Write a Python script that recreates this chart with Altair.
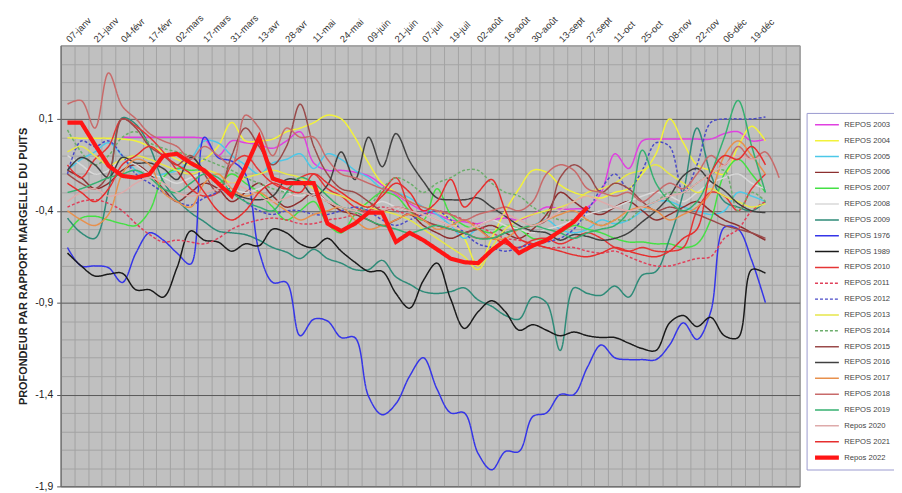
import altair as alt
import pandas as pd

x_labels = ['07-janv', '21-janv', '04-févr', '17-févr', '02-mars', '17-mars', '31-mars',
            '13-avr', '28-avr', '11-mai', '24-mai', '09-juin', '21-juin', '07-juil',
            '19-juil', '02-août', '16-août', '30-août', '13-sept', '27-sept', '11-oct',
            '25-oct', '08-nov', '22-nov', '06-déc', '19-déc']

series_names = ["REPOS 2003", "REPOS 2004", "REPOS 2005", "REPOS 2006", "REPOS 2007",
                "REPOS 2008", "REPOS 2009", "REPOS 1976", "REPOS 1989", "REPOS 2010",
                "REPOS 2011", "REPOS 2012", "REPOS 2013", "REPOS 2014", "REPOS 2015",
                "REPOS 2016", "REPOS 2017", "REPOS 2018", "REPOS 2019", "Repos 2020",
                "REPOS 2021", "Repos 2022"]
series_colors = ["#e040e0", "#f2f23a", "#4cc8e8", "#8c2f2f", "#44e044",
                 "#d9d9d9", "#2e8b78", "#3535e8", "#1a1a1a", "#e53535",
                 "#e0405a", "#4a4ac8", "#e6e64a", "#6cae6c", "#9a4a4a",
                 "#404040", "#e8904c", "#c86a6a", "#35b070", "#deaaaa",
                 "#e62e2e", "#ff1515"]
series_dashes = [[1, 0]] * 10 + [[3, 2], [3, 2], [1, 0], [3, 2]] + [[1, 0]] * 8
series_widths = [1.5] * 21 + [4.2]
series_starts = [4] + [0] * 21

s2003 = [-0.0, -0.0, -0.0, -0.0, -0.0, -0.0, -0.01,
         -0.10, -0.02, -0.03, -0.04, -0.06, -0.02, 0.03, -0.14, -0.18, -0.18, -0.19, -0.21, -0.26, -0.31,
         -0.36, -0.40, -0.42, -0.45, -0.46, -0.47, -0.45, -0.44, -0.45, -0.42,
         -0.38, -0.39, -0.39, -0.38, -0.30, -0.09, -0.17, -0.02, -0.01, -0.01, -0.01, -0.01, -0.01, 0.02, 0.03, -0.02, -0.01]
s2004 = [-0.003, -0.005, -0.005, -0.005, -0.01, -0.02, -0.05, -0.08, -0.12, -0.15,
         -0.12, -0.05, 0.08, -0.02, -0.02, -0.01, 0.03, 0.05, 0.08, 0.12,
         0.10, 0.00, -0.14, -0.25, -0.30, -0.35, -0.38, -0.40, -0.45, -0.55,
         -0.70, -0.55, -0.40, -0.28, -0.18, -0.19, -0.26, -0.30, -0.32, -0.33,
         -0.30, -0.28, -0.20, -0.09, 0.10, -0.03, -0.15, -0.18, -0.20, -0.05,
         0.06, -0.02]
s2005 = [-0.18, -0.12, -0.08, -0.03, -0.10, -0.18, -0.22, -0.20, -0.18, -0.12,
         -0.02, -0.03, -0.10, -0.15, -0.20, -0.14, -0.12, -0.09, -0.17, -0.09,
         -0.12, -0.18, -0.22, -0.28, -0.30, -0.33, -0.38, -0.42, -0.48, -0.55,
         -0.50, -0.55, -0.52, -0.50, -0.48, -0.45, -0.50, -0.52, -0.50, -0.45,
         -0.47, -0.45, -0.40, -0.35, -0.35, -0.38, -0.40, -0.42, -0.40, -0.30,
         -0.32, -0.35]
s2006 = [-0.18, -0.22, -0.28, -0.25, -0.18, -0.15, -0.20, -0.28, -0.35, -0.30,
         -0.25, -0.28, -0.35, -0.30, -0.25, -0.32, -0.38, -0.35, -0.30, -0.35,
         -0.40, -0.42, -0.45, -0.48, -0.45, -0.42, -0.48, -0.52, -0.55, -0.52,
         -0.50, -0.48, -0.52, -0.55, -0.50, -0.42, -0.30, -0.35, -0.40, -0.42,
         -0.38, -0.35, -0.40, -0.45, -0.42, -0.38, -0.35, -0.40, -0.45, -0.48,
         -0.52, -0.56]
s2007 = [-0.52, -0.44, -0.43, -0.45, -0.47, -0.48, -0.40, -0.22, -0.17, -0.18,
         -0.18, -0.25, -0.20, -0.25, -0.30, -0.38, -0.45, -0.40, -0.35, -0.47,
         -0.52, -0.42, -0.35, -0.30, -0.32, -0.40, -0.45, -0.28, -0.42, -0.48,
         -0.50, -0.52, -0.48, -0.50, -0.55, -0.55, -0.52, -0.48, -0.50, -0.52,
         -0.55, -0.57, -0.57, -0.58, -0.58, -0.60, -0.58, -0.45, -0.20, -0.12,
         -0.20, -0.30]
s2008 = [-0.10, -0.15, -0.20, -0.18, -0.12, -0.15, -0.20, -0.22, -0.25, -0.22,
         -0.20, -0.25, -0.28, -0.30, -0.28, -0.25, -0.30, -0.32, -0.30, -0.35,
         -0.38, -0.40, -0.38, -0.35, -0.38, -0.40, -0.42, -0.45, -0.48, -0.50,
         -0.48, -0.45, -0.48, -0.50, -0.52, -0.50, -0.48, -0.45, -0.42, -0.40,
         -0.38, -0.35, -0.32, -0.30, -0.32, -0.35, -0.30, -0.25, -0.22, -0.20,
         -0.25, -0.28]
s2009 = [-0.44, -0.52, -0.55, -0.29, 0.105, 0.07, -0.05, -0.24, -0.34, -0.41,
         -0.46, -0.51, -0.52, -0.53, -0.56, -0.60, -0.625, -0.66, -0.61, -0.66,
         -0.685, -0.72, -0.72, -0.67, -0.76, -0.80, -0.84, -0.85, -0.84, -0.82,
         -0.885, -0.92, -0.97, -0.99, -0.87, -0.90, -1.16, -0.82, -0.85, -0.86,
         -0.81, -0.87, -0.75, -0.73, -0.55, -0.30, 0.05, -0.20, -0.35, -0.38,
         -0.40, -0.35]
s1976 = [-0.60, -0.70, -0.70, -0.71, -0.79, -0.63, -0.52, -0.56, -0.63, -0.69,
         0.00, -0.11, -0.13, -0.20, -0.62, -0.79, -0.79, -1.08, -0.99, -1.00,
         -1.09, -1.09, -1.41, -1.51, -1.45, -1.30, -1.20, -1.37, -1.50, -1.50,
         -1.72, -1.81, -1.71, -1.71, -1.52, -1.50, -1.40, -1.40, -1.25, -1.13,
         -1.20, -1.21, -1.21, -1.21, -1.13, -1.01, -1.10, -0.95, -0.49, -0.50,
         -0.67, -0.90]
s1989 = [-0.63, -0.70, -0.755, -0.745, -0.74, -0.83, -0.83, -0.87, -0.71, -0.51,
         -0.56, -0.57, -0.62, -0.58, -0.59, -0.50, -0.52, -0.58, -0.60, -0.55,
         -0.62, -0.68, -0.73, -0.73, -0.85, -0.93, -0.78, -0.685, -0.88, -1.04,
         -0.95, -0.89, -0.95, -1.05, -1.02, -1.05, -1.08, -1.06, -1.08, -1.09,
         -1.09, -1.12, -1.15, -1.16, -1.01, -0.97, -1.03, -0.98, -1.08, -1.09,
         -0.72, -0.74]
s2010 = [-0.15, -0.22, -0.12, -0.05, 0.10, 0.06, 0.00, -0.08, -0.18, -0.28,
         -0.32, -0.30, -0.15, -0.10, -0.18, -0.25, -0.28, -0.22, -0.20, -0.28,
         -0.32, -0.38, -0.40, -0.30, -0.22, -0.38, -0.45, -0.48, -0.50, -0.52,
         -0.55, -0.55, -0.58, -0.60, -0.56, -0.55, -0.58, -0.55, -0.52, -0.55,
         -0.60, -0.62, -0.60, -0.62, -0.62, -0.60, -0.40, -0.30, -0.32, -0.40,
         -0.28, -0.20]
s2011 = [-0.38, -0.35, -0.34, -0.36, -0.40, -0.47, -0.53, -0.57, -0.56, -0.57,
         -0.58, -0.55, -0.50, -0.47, -0.45, -0.44, -0.45, -0.47, -0.47, -0.45,
         -0.44, -0.42, -0.40, -0.38, -0.40, -0.42, -0.42, -0.40, -0.42, -0.45,
         -0.48, -0.52, -0.55, -0.56, -0.58, -0.60, -0.60, -0.60, -0.62, -0.63,
         -0.62, -0.65, -0.68, -0.70, -0.70, -0.68, -0.66, -0.65, -0.55, -0.50,
         -0.40, -0.35]
s2012 = [-0.20, -0.02, -0.05, -0.02, -0.10, -0.20, -0.25, -0.30, -0.35, -0.37,
         -0.33, -0.30, -0.28, -0.35, -0.40, -0.42, -0.40, -0.40, -0.42, -0.42,
         -0.40, -0.38, -0.40, -0.45, -0.48, -0.45, -0.42, -0.40, -0.45, -0.52,
         -0.58, -0.60, -0.62, -0.60, -0.58, -0.57, -0.55, -0.50, -0.40, -0.28,
         -0.20, -0.28, -0.18, -0.03, -0.05, -0.30, -0.15, 0.08, 0.10, 0.10,
         0.10, 0.11]
s2013 = [-0.08, -0.05, -0.10, -0.15, -0.12, -0.10, -0.12, -0.15, -0.18, -0.20,
         -0.18, -0.20, -0.25, -0.22, -0.20, -0.18, -0.20, -0.22, -0.28, -0.30,
         -0.32, -0.35, -0.38, -0.40, -0.42, -0.45, -0.50, -0.55, -0.60, -0.65,
         -0.72, -0.60, -0.50, -0.45, -0.42, -0.40, -0.38, -0.35, -0.30, -0.28,
         -0.25, -0.20, -0.18, -0.15, -0.20, -0.25, -0.30, -0.28, -0.32, -0.35,
         -0.38, -0.36]
s2014 = [0.04, -0.08, -0.15, -0.10, 0.00, 0.03, -0.03, -0.06, -0.08, -0.10,
         -0.12, -0.15, -0.18, -0.22, -0.25, -0.28, -0.30, -0.30, -0.32, -0.35,
         -0.38, -0.40, -0.38, -0.28, -0.22, -0.25, -0.30, -0.25, -0.22, -0.18,
         -0.18, -0.25, -0.30, -0.32, -0.38, -0.42, -0.45, -0.45, -0.45, -0.48,
         -0.45, -0.45, -0.38, -0.35, -0.30, -0.30, -0.25, -0.20, -0.18, -0.40,
         -0.30, -0.35]
s2015 = [-0.20, -0.25, -0.28, -0.20, 0.10, 0.05, -0.05, -0.10, -0.15, -0.10,
         -0.20, -0.30, -0.10, 0.05, -0.05, -0.15, -0.05, 0.18, -0.05, -0.20,
         -0.28, -0.30, -0.35, -0.40, -0.38, -0.40, -0.45, -0.48, -0.50, -0.52,
         -0.50, -0.55, -0.52, -0.50, -0.48, -0.45, -0.22, -0.15, -0.20, -0.30,
         -0.25, -0.28, -0.35, -0.40, -0.38, -0.40, -0.42, -0.45, -0.48, -0.50,
         -0.52, -0.55]
s2016 = [-0.18, -0.11, -0.15, -0.22, -0.11, -0.14, -0.14, -0.17, -0.23, -0.11,
         -0.18, -0.25, -0.30, -0.33, -0.34, -0.32, -0.23, -0.24, -0.32, -0.26,
         -0.08, -0.23, 0.00, -0.16, 0.02, -0.13, -0.24, -0.33, -0.34, -0.34,
         -0.33, -0.38, -0.43, -0.48, -0.51, -0.52, -0.56, -0.53, -0.54, -0.56,
         -0.55, -0.52, -0.46, -0.40, -0.32, -0.21, -0.17, -0.24, -0.29, -0.36,
         -0.40, -0.41]
s2017 = [-0.40, -0.45, -0.48, -0.42, -0.20, -0.12, -0.15, -0.30, -0.35, -0.38,
         -0.25, -0.20, -0.28, -0.32, -0.30, -0.35, -0.40, -0.45, -0.42, -0.40,
         -0.38, -0.45, -0.50, -0.48, -0.45, -0.42, -0.45, -0.50, -0.48, -0.45,
         -0.50, -0.55, -0.55, -0.50, -0.48, -0.45, -0.42, -0.40, -0.45, -0.48,
         -0.45, -0.40, -0.38, -0.40, -0.45, -0.42, -0.38, -0.30, -0.10, -0.02,
         -0.10, -0.20]
s2018 = [0.18, 0.20, 0.05, 0.35, 0.17, 0.10, 0.02, -0.02, -0.05, -0.12,
         -0.05, -0.10, -0.15, 0.12, 0.05, -0.10, 0.05, 0.00, 0.00, -0.12,
         -0.20, -0.22, -0.25, -0.28, -0.30, -0.35, -0.38, -0.40, -0.42, -0.45,
         -0.42, -0.40, -0.38, -0.40, -0.35, -0.20, -0.15, -0.18, -0.28, -0.30,
         -0.32, -0.30, -0.35, -0.30, -0.25, -0.28, -0.20, -0.10, -0.15, -0.05,
         -0.12, -0.08, -0.22]
s2019 = [-0.30, -0.28, -0.25, -0.22, -0.20, -0.18, -0.22, -0.28, -0.30, -0.25,
         -0.20, -0.22, -0.30, -0.35, -0.38, -0.40, -0.30, -0.22, -0.25, -0.32,
         -0.38, -0.40, -0.45, -0.48, -0.50, -0.52, -0.50, -0.48, -0.50, -0.52,
         -0.55, -0.55, -0.52, -0.50, -0.48, -0.50, -0.52, -0.55, -0.52, -0.50,
         -0.48, -0.40, -0.07, -0.25, -0.35, -0.40, -0.35, -0.20, 0.00, 0.20,
         -0.05, -0.30]
s2020 = [-0.35, -0.30, -0.28, -0.32, -0.30, -0.25, -0.22, -0.25, -0.30, -0.32,
         -0.30, -0.28, -0.25, -0.28, -0.32, -0.35, -0.33, -0.30, -0.32, -0.35,
         -0.38, -0.40, -0.42, -0.40, -0.38, -0.40, -0.42, -0.45, -0.48, -0.50,
         -0.48, -0.45, -0.42, -0.45, -0.48, -0.45, -0.40, -0.35, -0.32, -0.35,
         -0.38, -0.40, -0.38, -0.35, -0.32, -0.30, -0.25, -0.20, -0.15, -0.10,
         -0.12, -0.10]
s2021 = [-0.25, -0.30, -0.35, -0.28, -0.15, -0.10, -0.05, -0.10, -0.15, -0.20,
         -0.30, -0.40, -0.45, -0.40, -0.30, -0.25, -0.28, -0.30, -0.20, -0.25,
         -0.30, -0.35, -0.38, -0.32, -0.25, -0.30, -0.40, -0.35, -0.23, -0.38,
         -0.30, -0.23, -0.40, -0.55, -0.58, -0.60, -0.62, -0.64, -0.65, -0.63,
         -0.60, -0.62, -0.64, -0.65, -0.62, -0.55, -0.50, -0.20, -0.10, -0.12,
         -0.05, -0.15]
s2022 = [0.08, 0.08, -0.04, -0.155, -0.21, -0.22, -0.20, -0.10, -0.09, -0.14,
         -0.18, -0.25, -0.32, -0.165, 0.00, -0.225, -0.25, -0.25, -0.25, -0.47,
         -0.51, -0.47, -0.41, -0.41, -0.57, -0.52, -0.56, -0.61, -0.66, -0.68,
         -0.685, -0.615, -0.56, -0.63, -0.59, -0.56, -0.51, -0.46, -0.38]

series_values = [s2003, s2004, s2005, s2006, s2007, s2008, s2009, s1976, s1989, s2010,
                 s2011, s2012, s2013, s2014, s2015, s2016, s2017, s2018, s2019, s2020,
                 s2021, s2022]

y_ticks = [round(-1.9 + 0.1 * k, 1) for k in range(25)]

rows = []
for name, start, vals in zip(series_names, series_starts, series_values):
    for k, v in enumerate(vals):
        rows.append({"serie": name, "cat": start + k, "val": v})
df = pd.DataFrame(rows)

labels_js = "[" + ",".join("'" + s + "'" for s in x_labels) + "]"
major_test = "abs((datum.value - 0.1) / 0.5 - round((datum.value - 0.1) / 0.5)) < 0.01"

x_axis = alt.Axis(
    orient="top", values=list(range(55)), title="",
    labelExpr=f"(datum.value % 2 == 0 && datum.value <= 50) ? {labels_js}[datum.value / 2] : ''",
    labelAngle=315, labelAlign="left", labelBaseline="middle", labelOffset=6.9,
    labelPadding=5, labelOverlap=False, labelFlush=False, labelFontSize=9.5,
    labelFont="Liberation Sans", labelColor="#333333",
    ticks=False, domain=False, grid=True, gridColor="#a3a3a3", gridWidth=1,
)
y_axis = alt.Axis(
    values=y_ticks, title="PROFONDEUR PAR RAPPORT MARGELLE DU PUITS",
    labelExpr=f"({major_test}) ? replace(toString(round(datum.value * 10) / 10), '.', ',') : ''",
    labelFontSize=10.5, labelFont="Liberation Sans", labelColor="#222222", labelPadding=4,
    labelOverlap=False,
    tickSize=4, tickColor={"condition": {"test": major_test, "value": "#555555"}, "value": "rgba(0,0,0,0)"},
    domain=True, domainColor="#666666",
    grid=True, gridWidth=1,
    gridColor={"condition": {"test": major_test, "value": "#5a5a5a"}, "value": "#a3a3a3"},
    titleFont="Liberation Sans", titleFontSize=11, titleFontWeight="bold", titleColor="#222222",
    titlePadding=6,
)

legend = alt.Legend(
    title=None, orient="none", legendX=751, legendY=68,
    symbolType="stroke", symbolSize=576, clipHeight=12, rowPadding=3.95,
    labelFontSize=7.7, labelFont="Liberation Sans", labelColor="#444444", labelOffset=3,
    padding=6, fillColor="white", strokeColor="#9a9ad0",
)

color = alt.Color("serie:N", scale=alt.Scale(domain=series_names, range=series_colors), legend=legend)
dash = alt.StrokeDash("serie:N", scale=alt.Scale(domain=series_names, range=series_dashes), legend=legend)
width = alt.StrokeWidth("serie:O", scale=alt.Scale(type="ordinal", domain=series_names, range=series_widths), legend=legend)
x_enc = alt.X("xpos:Q", scale=alt.Scale(domain=[0, 54], nice=False, zero=False), axis=x_axis)
y_enc = alt.Y("val:Q", scale=alt.Scale(domain=[-1.9, 0.5], nice=False, zero=False), axis=y_axis)

base = alt.Chart(df).transform_calculate(xpos="datum.cat + 0.5")

others = base.transform_filter("datum.serie != 'Repos 2022'").mark_line(
    interpolate="catmull-rom", clip=True
).encode(x=x_enc, y=y_enc, color=color, strokeDash=dash, strokeWidth=width)

current = base.transform_filter("datum.serie == 'Repos 2022'").mark_line(
    interpolate="linear", clip=True
).encode(x=x_enc, y=y_enc, color=color, strokeDash=dash, strokeWidth=width)

chart = alt.layer(others, current).properties(
    width=744, height=444,
    autosize=alt.AutoSizeParams(type="none"),
    padding={"left": 53, "top": 36, "right": 95, "bottom": 5},
    background="white",
).configure_view(fill="#c0c0c0", stroke="#7a7a7a", strokeWidth=1)

chart.save("out.html", embed_options={"renderer": "svg", "actions": False})
